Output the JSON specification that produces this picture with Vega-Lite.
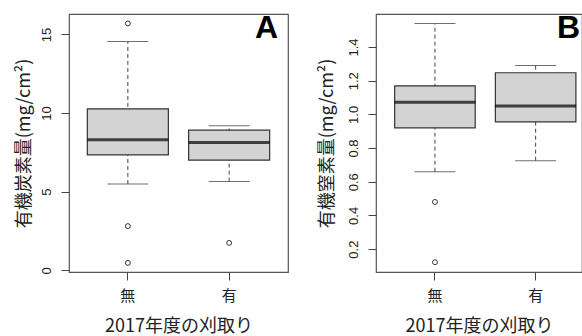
{
  "$schema": "https://vega.github.io/schema/vega-lite/v6.json",
  "background": "white",
  "padding": {"left": 14, "top": 11, "right": 0, "bottom": 0},
  "spacing": 88,
  "bounds": "flush",
  "datasets": {
    "statsA": [
      {"g": "無", "lower": 5.49, "q1": 7.34, "median": 8.3, "q3": 10.27, "upper": 14.55},
      {"g": "有", "lower": 5.64, "q1": 7.0, "median": 8.13, "q3": 8.91, "upper": 9.19}
    ],
    "outA": [
      {"g": "無", "v": 15.7},
      {"g": "無", "v": 2.81},
      {"g": "無", "v": 0.47},
      {"g": "有", "v": 1.74}
    ],
    "statsB": [
      {"g": "無", "lower": 0.66, "q1": 0.92, "median": 1.072, "q3": 1.169, "upper": 1.539},
      {"g": "有", "lower": 0.725, "q1": 0.956, "median": 1.05, "q3": 1.247, "upper": 1.29}
    ],
    "outB": [
      {"g": "無", "v": 0.48},
      {"g": "無", "v": 0.122}
    ]
  },
  "config": {
    "view": {"stroke": "#555", "strokeWidth": 1.2},
    "axis": {
      "grid": false,
      "domain": false,
      "tickSize": 8,
      "tickColor": "#444",
      "tickWidth": 1,
      "labelColor": "#222",
      "titleColor": "#222",
      "titleFontWeight": "normal"
    },
    "axisY": {
      "labelFont": "Liberation Sans",
      "labelFontSize": 13,
      "labelAngle": -90,
      "labelAlign": "center",
      "labelBaseline": "bottom",
      "labelPadding": 8,
      "titleFont": "Noto Sans CJK JP",
      "titleFontSize": 18,
      "titlePadding": 7
    },
    "axisX": {
      "labelFont": "Noto Sans CJK JP",
      "labelFontSize": 15,
      "labelAngle": 0,
      "labelPadding": 8,
      "titleFont": "Noto Sans CJK JP",
      "titleFontSize": 18,
      "titlePadding": 14
    },
    "title": {"font": "Liberation Sans", "fontSize": 32, "fontWeight": "bold", "color": "#000", "anchor": "end", "baseline": "alphabetic", "frame": "group"}
  },
  "hconcat": [
    {
      "width": 219,
      "height": 258,
      "title": {"text": "A", "offset": -31, "dx": -10},
      "encoding": {
        "x": {"field": "g", "type": "nominal", "scale": {"domain": ["無", "有"], "paddingInner": 0.2, "paddingOuter": 0.181}, "axis": {"title": "2017年度の刈取り"}}
      },
      "layer": [
        {
          "data": {"name": "statsA"},
          "mark": {"type": "rule", "strokeDash": [4, 3], "color": "#444", "strokeWidth": 1},
          "encoding": {
            "y": {"field": "lower", "type": "quantitative", "scale": {"domain": [-0.11, 16.3], "nice": false, "zero": false}, "axis": {"title": "有機炭素量(mg/cm²)", "values": [0, 5, 10, 15], "format": "d"}},
            "y2": {"field": "upper"}
          }
        },
        {
          "data": {"name": "statsA"},
          "mark": {"type": "tick", "size": 41, "thickness": 1, "color": "#333"},
          "encoding": {
            "y": {"field": "lower", "type": "quantitative", "scale": {"domain": [-0.11, 16.3], "nice": false, "zero": false}, "axis": {"title": "有機炭素量(mg/cm²)", "values": [0, 5, 10, 15], "format": "d"}}
          }
        },
        {
          "data": {"name": "statsA"},
          "mark": {"type": "tick", "size": 41, "thickness": 1, "color": "#333"},
          "encoding": {
            "y": {"field": "upper", "type": "quantitative", "scale": {"domain": [-0.11, 16.3], "nice": false, "zero": false}, "axis": {"title": "有機炭素量(mg/cm²)", "values": [0, 5, 10, 15], "format": "d"}}
          }
        },
        {
          "data": {"name": "statsA"},
          "mark": {"type": "bar", "fill": "#d3d3d3", "stroke": "#333", "strokeWidth": 1.2},
          "encoding": {
            "y": {"field": "q1", "type": "quantitative", "scale": {"domain": [-0.11, 16.3], "nice": false, "zero": false}, "axis": {"title": "有機炭素量(mg/cm²)", "values": [0, 5, 10, 15], "format": "d"}},
            "y2": {"field": "q3"}
          }
        },
        {
          "data": {"name": "statsA"},
          "mark": {"type": "tick", "size": 81, "thickness": 3, "color": "#000"},
          "encoding": {
            "y": {"field": "median", "type": "quantitative", "scale": {"domain": [-0.11, 16.3], "nice": false, "zero": false}, "axis": {"title": "有機炭素量(mg/cm²)", "values": [0, 5, 10, 15], "format": "d"}}
          }
        },
        {
          "data": {"name": "outA"},
          "mark": {"type": "point", "shape": "circle", "filled": false, "size": 24, "stroke": "#333", "strokeWidth": 1, "opacity": 1},
          "encoding": {
            "y": {"field": "v", "type": "quantitative", "scale": {"domain": [-0.11, 16.3], "nice": false, "zero": false}, "axis": {"title": "有機炭素量(mg/cm²)", "values": [0, 5, 10, 15], "format": "d"}}
          }
        }
      ]
    },
    {
      "width": 206,
      "height": 258,
      "title": {"text": "B", "offset": -31, "dx": -2},
      "encoding": {
        "x": {"field": "g", "type": "nominal", "scale": {"domain": ["無", "有"], "paddingInner": 0.2, "paddingOuter": 0.123, "align": 0.754}, "axis": {"title": "2017年度の刈取り"}}
      },
      "layer": [
        {
          "data": {"name": "statsB"},
          "mark": {"type": "rule", "strokeDash": [4, 3], "color": "#444", "strokeWidth": 1},
          "encoding": {
            "y": {"field": "lower", "type": "quantitative", "scale": {"domain": [0.064, 1.596], "nice": false, "zero": false}, "axis": {"title": "有機窒素量(mg/cm²)", "titlePadding": 11, "values": [0.2, 0.4, 0.6, 0.8, 1.0, 1.2, 1.4], "format": ".1f"}},
            "y2": {"field": "upper"}
          }
        },
        {
          "data": {"name": "statsB"},
          "mark": {"type": "tick", "size": 41, "thickness": 1, "color": "#333"},
          "encoding": {
            "y": {"field": "lower", "type": "quantitative", "scale": {"domain": [0.064, 1.596], "nice": false, "zero": false}, "axis": {"title": "有機窒素量(mg/cm²)", "titlePadding": 11, "values": [0.2, 0.4, 0.6, 0.8, 1.0, 1.2, 1.4], "format": ".1f"}}
          }
        },
        {
          "data": {"name": "statsB"},
          "mark": {"type": "tick", "size": 41, "thickness": 1, "color": "#333"},
          "encoding": {
            "y": {"field": "upper", "type": "quantitative", "scale": {"domain": [0.064, 1.596], "nice": false, "zero": false}, "axis": {"title": "有機窒素量(mg/cm²)", "titlePadding": 11, "values": [0.2, 0.4, 0.6, 0.8, 1.0, 1.2, 1.4], "format": ".1f"}}
          }
        },
        {
          "data": {"name": "statsB"},
          "mark": {"type": "bar", "fill": "#d3d3d3", "stroke": "#333", "strokeWidth": 1.2},
          "encoding": {
            "y": {"field": "q1", "type": "quantitative", "scale": {"domain": [0.064, 1.596], "nice": false, "zero": false}, "axis": {"title": "有機窒素量(mg/cm²)", "titlePadding": 11, "values": [0.2, 0.4, 0.6, 0.8, 1.0, 1.2, 1.4], "format": ".1f"}},
            "y2": {"field": "q3"}
          }
        },
        {
          "data": {"name": "statsB"},
          "mark": {"type": "tick", "size": 81, "thickness": 3, "color": "#000"},
          "encoding": {
            "y": {"field": "median", "type": "quantitative", "scale": {"domain": [0.064, 1.596], "nice": false, "zero": false}, "axis": {"title": "有機窒素量(mg/cm²)", "titlePadding": 11, "values": [0.2, 0.4, 0.6, 0.8, 1.0, 1.2, 1.4], "format": ".1f"}}
          }
        },
        {
          "data": {"name": "outB"},
          "mark": {"type": "point", "shape": "circle", "filled": false, "size": 24, "stroke": "#333", "strokeWidth": 1, "opacity": 1},
          "encoding": {
            "y": {"field": "v", "type": "quantitative", "scale": {"domain": [0.064, 1.596], "nice": false, "zero": false}, "axis": {"title": "有機窒素量(mg/cm²)", "titlePadding": 11, "values": [0.2, 0.4, 0.6, 0.8, 1.0, 1.2, 1.4], "format": ".1f"}}
          }
        }
      ]
    }
  ]
}
